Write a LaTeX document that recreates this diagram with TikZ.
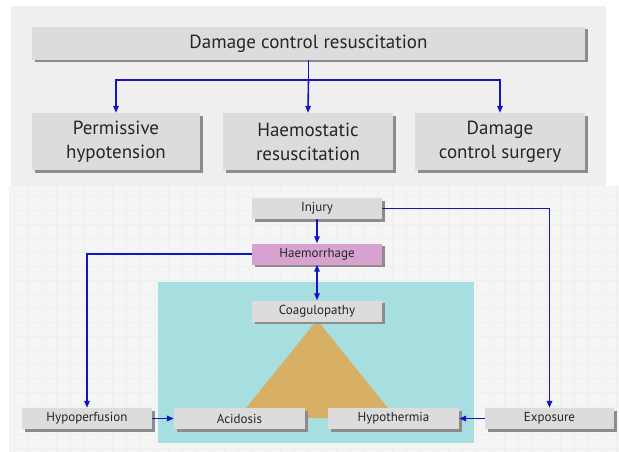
\documentclass[tikz,border=0pt]{standalone}
\usepackage{fontspec}
\setmainfont{PT Sans}
\usetikzlibrary{arrows.meta,shadows}
\definecolor{panelbg}{HTML}{EFEFEF}
\definecolor{panelbgb}{HTML}{F5F5F5}
\definecolor{gridc}{HTML}{EFEFEF}
\definecolor{boxfill}{HTML}{DCDCDC}
\definecolor{boxshadow}{HTML}{8C8C8C}
\definecolor{pinkfill}{HTML}{D7A2CF}
\definecolor{cyanfill}{HTML}{A7DFE0}
\definecolor{trifill}{HTML}{D8B065}
\definecolor{arrowblue}{HTML}{1414C4}
\definecolor{textc}{HTML}{262626}
\tikzset{
  box/.style={fill=boxfill, draw=none, text=textc, align=center, inner sep=0pt,
    drop shadow={shadow xshift=2.5pt, shadow yshift=-2.5pt, fill=boxshadow, opacity=1}},
  bigbox/.style={box, font=\fontsize{19}{24}\selectfont},
  smallbox/.style={box, font=\fontsize{13}{14}\selectfont, minimum width=130pt, minimum height=21pt},
  conn/.style={draw=arrowblue, line width=1.6pt, -{Triangle[length=7pt,width=5.5pt]}},
  plain/.style={draw=arrowblue, line width=1.6pt},
  both/.style={draw=arrowblue, line width=1.6pt, {Triangle[length=7pt,width=5.5pt]}-{Triangle[length=7pt,width=5.5pt]}}
}
\begin{document}
\begin{tikzpicture}[x=1pt,y=-1pt]
\useasboundingbox (0,0) rectangle (619,452);
\fill[white] (0,0) rectangle (619,452);
% panels
\fill[panelbg] (11,6) rectangle (606,186);
\fill[panelbgb] (9,186) rectangle (619,452);
\begin{scope}
\clip (9,186) rectangle (619,452);
\draw[gridc, line width=0.3pt, step=14pt] (9,186) grid (619,452);
\end{scope}
% top diagram
\node[bigbox, minimum width=553pt, minimum height=33pt] (dcr) at (308.5,43.5) {Damage control resuscitation};
\node[bigbox, minimum width=168pt, minimum height=57pt] (ph) at (116,141.5) {Permissive\\hypotension};
\node[bigbox, minimum width=170pt, minimum height=57pt] (hr) at (308,141.5) {Haemostatic\\resuscitation};
\node[bigbox, minimum width=170pt, minimum height=57pt] (dcs) at (500,141.5) {Damage\\control surgery};
\coordinate (split) at (308.5,80);
\draw[plain] (dcr.south) -- (split);
\draw[conn] (split) -| (ph.north);
\draw[conn] (split) -| (dcs.north);
\draw[conn] (split) -- (hr.north);
% bottom diagram
\fill[cyanfill] (158,282) rectangle (474,443);
\fill[trifill] (317,320) -- (238,418) -- (396,418) -- cycle;
\node[smallbox] (inj) at (317,208.5) {Injury};
\node[smallbox, fill=pinkfill] (hae) at (317,254) {Haemorrhage};
\node[smallbox] (coa) at (317,311) {Coagulopathy};
\node[smallbox] (hyp) at (87,418.5) {Hypoperfusion};
\node[smallbox, minimum width=131pt] (aci) at (239.5,418.5) {Acidosis};
\node[smallbox, minimum width=131pt] (hth) at (393.5,418.5) {Hypothermia};
\node[smallbox, minimum width=129pt] (exp) at (549.5,418.5) {Exposure};
\draw[conn] (inj.south) -- (hae.north);
\draw[both] (hae.south) -- (coa.north);
\draw[conn] (inj.east) -| (exp.north);
\draw[conn] (hae.west) -| (hyp.north);
\draw[conn] (hyp.east) -- (aci.west);
\draw[conn] (exp.west) -- (hth.east);
\end{tikzpicture}
\end{document}
